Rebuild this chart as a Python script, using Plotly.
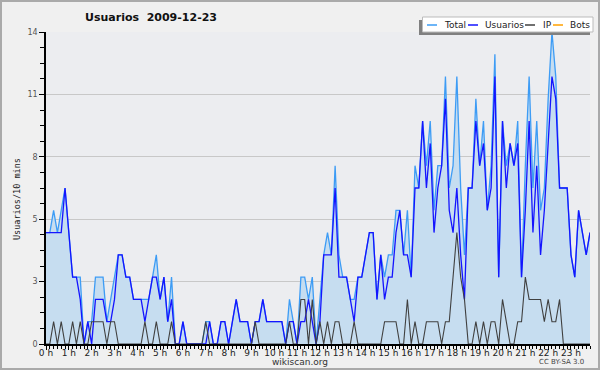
import plotly.graph_objects as go

# 10-minute slots over the day (144 slots)
slots = list(range(144))
hour_labels = [f"{h} h" for h in range(24)]

total = [5,5,6,5,6,7,5,3,3,3,0,1,1,3,3,3,1,2,3,4,4,3,3,2,2,2,2,2,3,4,
         2,3,1,3,0,0,1,0,0,0,0,0,1,1,0,0,1,1,0,1,2,1,1,1,0,1,1,2,1,1,
         1,1,1,0,2,1,0,3,3,2,3,0,2,4,5,4,8,4,3,3,2,2,3,3,4,5,5,2,4,3,
         4,4,6,6,4,6,3,8,7,10,8,10,6,8,8,12,7,8,12,7,4,7,7,11,8,10,6,8,13,3,
         10,8,9,8,10,3,8,12,7,10,6,7,11,14,12,7,7,7,4,3,6,5,4,5]
usuarios = [5,5,5,5,5,7,5,3,3,2,0,1,0,2,2,2,1,1,2,4,4,3,3,2,2,2,1,2,3,3,
            2,3,1,2,0,0,1,0,0,0,0,0,0,1,0,0,1,1,0,1,2,1,1,1,0,1,1,2,1,1,
            1,1,1,0,1,1,0,1,1,2,1,0,1,4,4,4,7,3,3,3,2,1,3,3,4,5,5,2,4,2,
            3,3,5,6,4,4,3,7,7,10,7,9,5,7,8,11,6,5,7,4,2,7,7,10,8,9,6,7,12,3,
            10,7,9,8,9,3,6,10,5,8,4,6,9,12,11,7,7,7,4,3,6,5,4,5]
ip = [0,0,1,0,1,0,0,1,0,1,0,0,1,1,1,1,0,1,1,0,0,0,0,0,0,0,1,0,0,1,
      0,0,0,1,0,0,0,0,0,0,0,0,1,0,0,0,0,0,0,0,0,0,0,0,0,1,0,0,0,0,
      0,0,0,0,1,0,0,2,2,0,2,0,1,0,1,0,1,1,0,0,0,1,0,0,0,0,0,0,0,1,
      1,1,1,0,0,2,0,1,0,0,1,1,1,1,0,1,1,3,5,3,2,0,0,1,0,1,0,1,1,0,
      2,1,0,0,1,1,3,2,2,2,2,1,2,1,1,2,0,0,0,0,0,0,0,0]
bots = [0]*144

series_names = ["Total", "Usuarios", "IP", "Bots"]
series_colors = ["#3d9cf5", "#1414ff", "#404040", "#ffa000"]

ytick_vals = [0, 2.8, 5.6, 8.4, 11.2, 14]
ytick_text = ["0", "3", "5", "8", "11", "14"]

fig = go.Figure()
fig.add_trace(go.Scatter(x=slots, y=bots, name="Bots", mode="lines",
                         line=dict(color=series_colors[3], width=1.1)))
fig.add_trace(go.Scatter(x=slots, y=total, name="Total", mode="lines",
                         line=dict(color=series_colors[0], width=1.3),
                         fill="tozeroy", fillcolor="#c6ddf0"))
fig.add_trace(go.Scatter(x=slots, y=usuarios, name="Usuarios", mode="lines",
                         line=dict(color=series_colors[1], width=1.3)))
fig.add_trace(go.Scatter(x=slots, y=ip, name="IP", mode="lines",
                         line=dict(color=series_colors[2], width=1.1)))

L, R, T, B = 46, 10, 32, 26
W, H = 600, 370
pw, ph = W - L - R, H - T - B

def px(x):
    return (x - L) / pw

def py(y):
    return (H - B - y) / ph

shapes = [
    dict(type="rect", xref="paper", yref="paper",
         x0=px(1), x1=px(599), y0=py(1), y1=py(369),
         line=dict(color="#aaaaaa", width=2), layer="below"),
    # legend shadow and box
    dict(type="rect", xref="paper", yref="paper",
         x0=px(419), x1=px(590), y0=py(20), y1=py(35),
         line=dict(width=0), fillcolor="#808080", layer="above"),
    dict(type="rect", xref="paper", yref="paper",
         x0=px(422.5), x1=px(593), y0=py(17), y1=py(32),
         line=dict(color="#bbbbbb", width=1), fillcolor="#ffffff", layer="above"),
]
annotations = [
    dict(text="Usuarios/10 mins", x=px(10), y=py(199), xref="paper", yref="paper",
         textangle=-90, showarrow=False,
         font=dict(family="DejaVu Sans Mono", size=8.5, color="#222222")),
    dict(text="wikiscan.org", x=px(300), y=py(362), xref="paper", yref="paper",
         xanchor="center", yanchor="middle",
         showarrow=False, font=dict(size=9, color="#333333")),
    dict(text="CC BY-SA 3.0", x=px(561), y=py(362), xref="paper", yref="paper",
         xanchor="center", yanchor="middle",
         showarrow=False, font=dict(size=7, color="#444444")),
]

# manual compact legend
leg_line_x = [427, 468, 525, 553]
leg_text_x = [442, 483, 541, 568]
for name, col, lx, tx in zip(series_names, series_colors, leg_line_x, leg_text_x):
    shapes.append(dict(type="line", xref="paper", yref="paper",
                       x0=px(lx), x1=px(lx + 10), y0=py(25), y1=py(25),
                       line=dict(color=col, width=1.5), layer="above"))
    annotations.append(dict(text=name, x=px(tx), y=py(25), xref="paper", yref="paper",
                            xanchor="left", yanchor="middle", showarrow=False,
                            font=dict(size=9, color="#222222")))

fig.update_layout(
    width=W, height=H,
    margin=dict(l=L, r=R, t=T, b=B, autoexpand=False),
    paper_bgcolor="#f0f0f0",
    plot_bgcolor="#ecedf0",
    showlegend=False,
    font=dict(family="DejaVu Sans", color="#222222", size=9),
    title=dict(text="<b>Usuarios\u00a0\u00a02009-12-23</b>",
               x=px(151), xref="paper", xanchor="center",
               y=1 - 17 / H, yanchor="middle",
               font=dict(family="DejaVu Sans", size=11, color="#111111")),
    xaxis=dict(range=[0, 143], tickmode="array",
               tickvals=[h * 6 for h in range(24)], ticktext=hour_labels,
               ticks="outside", ticklen=4, tickcolor="#000000",
               ticklabelstandoff=-5,
               showline=True, linecolor="#000000", linewidth=2,
               showgrid=False, zeroline=False, automargin=False,
               tickfont=dict(size=9, color="#222222"),
               minor=dict(dtick=1, tick0=0, ticks="outside", ticklen=3,
                          tickcolor="#000000", showgrid=False)),
    yaxis=dict(range=[0, 14], tickmode="array",
               tickvals=ytick_vals, ticktext=ytick_text,
               ticks="outside", ticklen=5, tickcolor="#000000",
               showline=True, linecolor="#000000", linewidth=1.5,
               showgrid=True, gridcolor="#c8c8c8", gridwidth=1,
               zeroline=False, automargin=False,
               tickfont=dict(size=8, color="#555555"),
               minor=dict(dtick=0.7, tick0=0, ticks="outside", ticklen=4,
                          tickcolor="#000000", showgrid=False)),
    annotations=annotations,
    shapes=shapes,
)

fig.write_html("out.html", config={"displayModeBar": False},
               post_script="document.body.style.margin='0';document.body.style.overflow='hidden';")
